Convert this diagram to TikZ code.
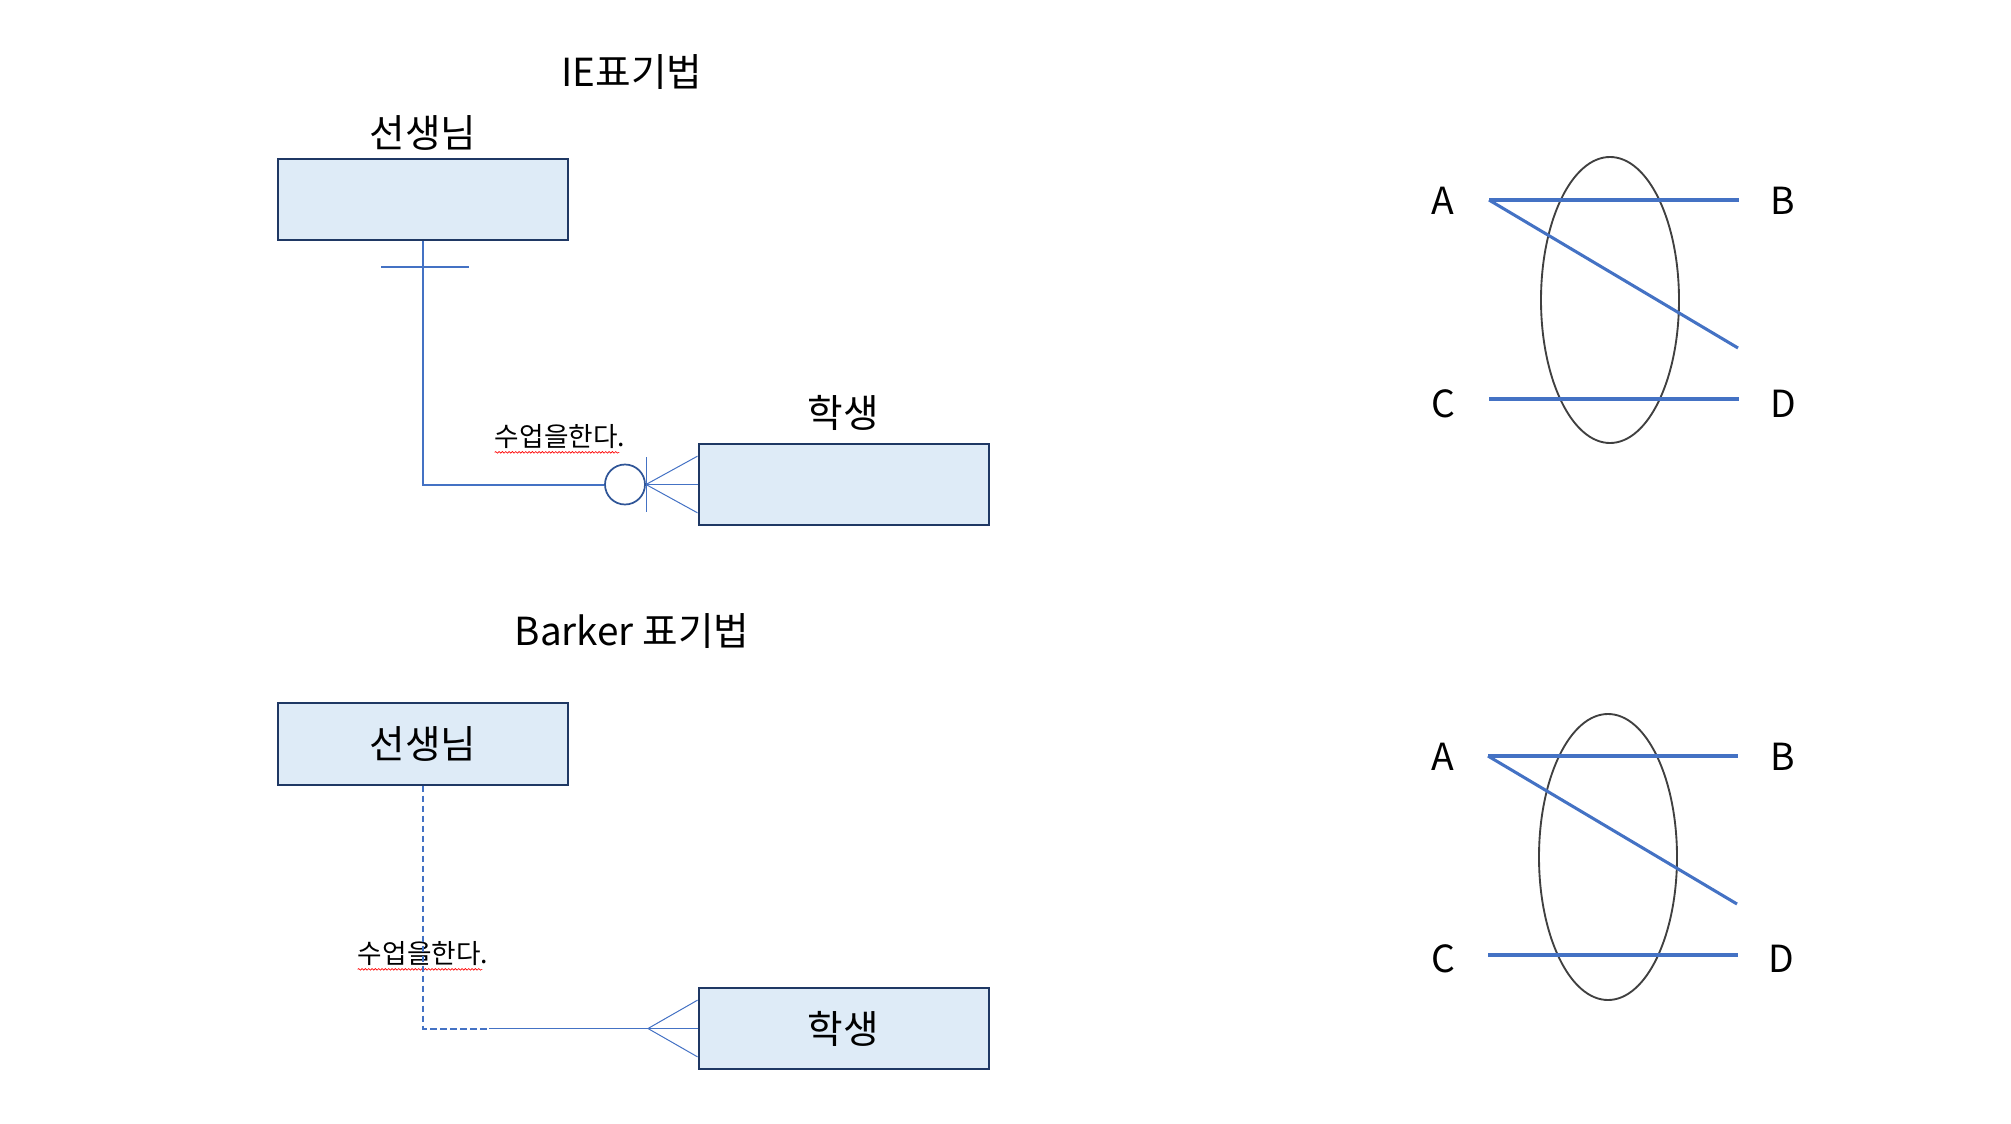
\documentclass[tikz,border=0pt]{standalone}
\usepackage{fontspec}
\setmainfont{Noto Sans CJK KR}
\usetikzlibrary{calc,decorations.pathmorphing}
\definecolor{boxfill}{RGB}{222,235,247}
\definecolor{boxline}{RGB}{31,56,100}
\definecolor{lnblue}{RGB}{68,114,196}
\definecolor{circblue}{RGB}{47,85,151}
\definecolor{ellgray}{RGB}{64,64,64}
\begin{document}
\begin{tikzpicture}[x=0.75pt,y=-0.75pt,
  ent/.style={draw=boxline,line width=1.5pt,fill=boxfill,minimum width=217.5pt,minimum height=61pt,inner sep=0pt,font=\fontsize{29}{32}\selectfont},
  big/.style={font=\fontsize{29}{32}\selectfont,inner sep=0pt},
  small/.style={font=\fontsize{20}{24}\selectfont,inner sep=0pt},
  rel/.style={draw=lnblue,line width=1.5pt},
  relthin/.style={draw=lnblue,line width=0.75pt},
  reldash/.style={draw=lnblue,line width=1.5pt,dash pattern=on 5pt off 2.5pt},
  optcirc/.style={draw=circblue,line width=1.3pt,circle,minimum size=30pt,inner sep=0pt},
  spell/.style={draw=red,line width=0.5pt,decorate,decoration={snake,amplitude=0.6pt,segment length=2.5pt}},
  ab/.style={draw=lnblue,line width=2.3pt},
  ell/.style={draw=ellgray,line width=1.4pt},
  ltr/.style={font=\fontsize{28}{30}\selectfont,inner sep=0pt}
]
\useasboundingbox (0,0) rectangle (2011,1124);

% ---------- IE notation ----------
\node[big] (ietitle) at (632,72) {IE표기법};
\node[big] (t1lbl) at (423,133) {선생님};
\node[ent] (t1) at (423,199.5) {};
\node[big] (s1lbl) at (843,413) {학생};
\node[ent] (s1) at (843.5,484.5) {};
\node[small] (r1lbl) at (560,437) {수업을한다.};
\draw[spell] ($(r1lbl.south west)+(0,3)$) -- ($(r1lbl.south east)+(-6,3)$);

\node[optcirc] (oc) at (625,484.5) {};
\coordinate (cf1) at (646,484.5);
\draw[rel] (t1.south) |- (oc.west);
\coordinate (tkL) at (381,267);
\coordinate (tkR) at (469,267);
\draw[rel] (tkL) -- (tkR);
\coordinate (barT) at (646,457);
\coordinate (barB) at (646,512);
\draw[relthin] (barT) -- (barB);
\draw[relthin] (cf1) -- (s1.west);
\draw[relthin] (cf1) -- ($(s1.south west)!0.16!(s1.north west)$);
\draw[relthin] (cf1) -- ($(s1.north west)!0.16!(s1.south west)$);

% ---------- Barker notation ----------
\node[big] (bktitle) at (632,631) {Barker 표기법};
\node[ent] (t2) at (423,744) {선생님};
\node[ent] (s2) at (843.5,1028.5) {학생};
\node[small] (r2lbl) at (423,954) {수업을한다.};
\draw[spell] ($(r2lbl.south west)+(0,3)$) -- ($(r2lbl.south east)+(-6,3)$);

\coordinate (bk) at (423,1028.5);
\coordinate (bm) at (489,1028.5);
\coordinate (cf2) at (648,1028.5);
\draw[reldash] (t2.south) -- (bk) -- (bm);
\draw[relthin] (bm) -- (cf2);
\draw[relthin] (cf2) -- (s2.west);
\draw[relthin] (cf2) -- ($(s2.south west)!0.16!(s2.north west)$);
\draw[relthin] (cf2) -- ($(s2.north west)!0.16!(s2.south west)$);

% ---------- right diagram (top) ----------
\node[ltr] (A1) at (1443,201) {A};
\node[ltr] (B1) at (1783,201) {B};
\node[ltr] (C1) at (1443,404) {C};
\node[ltr] (D1) at (1783,404) {D};
\draw[ell] (1610,300) ellipse [x radius=69, y radius=143];
\coordinate (a1) at (1489,200);
\coordinate (b1) at (1739,200);
\coordinate (c1) at (1489,399);
\coordinate (d1) at (1739,399);
\coordinate (x1) at (1738,348);
\draw[ab] (a1) -- (b1);
\draw[ab] (a1) -- (x1);
\draw[ab] (c1) -- (d1);

% ---------- right diagram (bottom) ----------
\node[ltr] (A2) at (1443,757) {A};
\node[ltr] (B2) at (1783,757) {B};
\node[ltr] (C2) at (1443,959) {C};
\node[ltr] (D2) at (1781,959) {D};
\draw[ell] (1608,857) ellipse [x radius=69, y radius=143];
\coordinate (a2) at (1488,756);
\coordinate (b2) at (1738,756);
\coordinate (c2) at (1488,955);
\coordinate (d2) at (1738,955);
\coordinate (x2) at (1737,904);
\draw[ab] (a2) -- (b2);
\draw[ab] (a2) -- (x2);
\draw[ab] (c2) -- (d2);
\end{tikzpicture}
\end{document}
